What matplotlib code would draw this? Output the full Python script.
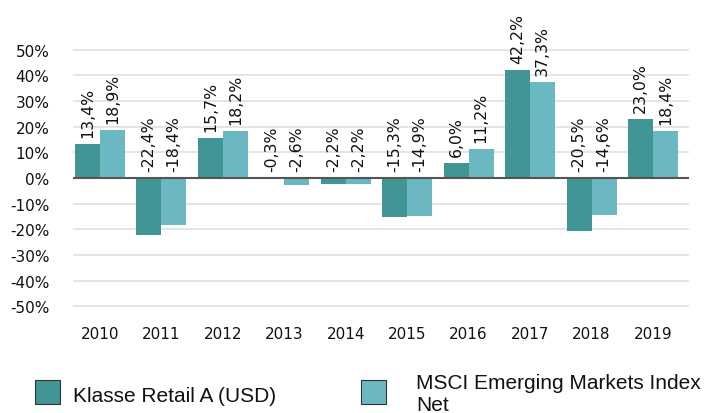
import matplotlib
matplotlib.use("Agg")
import matplotlib.pyplot as plt
from matplotlib.patches import Rectangle
import numpy as np

plt.rcParams["font.family"] = ["DejaVu Sans"]

years = ["2010", "2011", "2012", "2013", "2014", "2015", "2016", "2017", "2018", "2019"]
fund = [13.4, -22.4, 15.7, -0.3, -2.2, -15.3, 6.0, 42.2, -20.5, 23.0]
index = [18.9, -18.4, 18.2, -2.6, -2.2, -14.9, 11.2, 37.3, -14.6, 18.4]
series_names = ["Klasse Retail A (USD)", "MSCI Emerging Markets Index", "Net"]

DARK = "#419594"
LIGHT = "#6bb8c2"
W, H = 708, 414


def fx(px):
    return px / W


def fy(py):
    return 1 - py / H


fig = plt.figure(figsize=(W / 100, H / 100), dpi=100)
ax = fig.add_axes([fx(73), fy(320.1), fx(689) - fx(73), fy(37.9) - fy(320.1)])

x = np.arange(len(years))
bw = 0.407
b1 = ax.bar(x - bw / 2, fund, bw, color=DARK, zorder=2)
b2 = ax.bar(x + bw / 2, index, bw, color=LIGHT, zorder=2)


def fmt(v):
    return ("%.1f%%" % v).replace(".", ",")


for bars, vals in ((b1, fund), (b2, index)):
    for rect, v in zip(bars, vals):
        ax.annotate(fmt(v), (rect.get_x() + rect.get_width() / 2, max(v, 0)),
                    xytext=(0, 5), textcoords="offset points",
                    rotation=90, ha="center", va="bottom",
                    fontsize=11.3, color="#111111", annotation_clip=False)

ax.set_xlim(-0.44, 9.586)
ax.set_ylim(-55, 55)
ticks = np.arange(-50, 51, 10)
ax.set_yticks(ticks)
ax.set_yticklabels(["%d%%" % t for t in ticks])
ax.set_xticks(x)
ax.set_xticklabels(years)
ax.tick_params(axis="y", length=0, pad=17, labelsize=11, colors="#111111")
ax.tick_params(axis="x", length=0, pad=5, labelsize=11, colors="#111111")
for t in ticks:
    if t != 0:
        ax.axhline(t, color="#e3e3e3", lw=1.3, zorder=1)
ax.axhline(0, color="#555555", lw=1.5, zorder=3)
for s in ax.spines.values():
    s.set_visible(False)

# legend
fig.patches.append(Rectangle((fx(35), fy(405)), fx(25), fy(381) - fy(405),
                             transform=fig.transFigure, facecolor=DARK,
                             edgecolor="#333333", lw=0.8))
fig.patches.append(Rectangle((fx(361), fy(405)), fx(25), fy(381) - fy(405),
                             transform=fig.transFigure, facecolor=LIGHT,
                             edgecolor="#333333", lw=0.8))
fig.text(fx(73), fy(402), series_names[0], family="Liberation Sans",
         fontsize=15, va="baseline", color="#111111")
fig.text(fx(416), fy(389), series_names[1], family="Liberation Sans",
         fontsize=15, va="baseline", color="#111111")
fig.text(fx(416), fy(411), series_names[2], family="Liberation Sans",
         fontsize=15, va="baseline", color="#111111")

fig.savefig("out.png", dpi=100)
